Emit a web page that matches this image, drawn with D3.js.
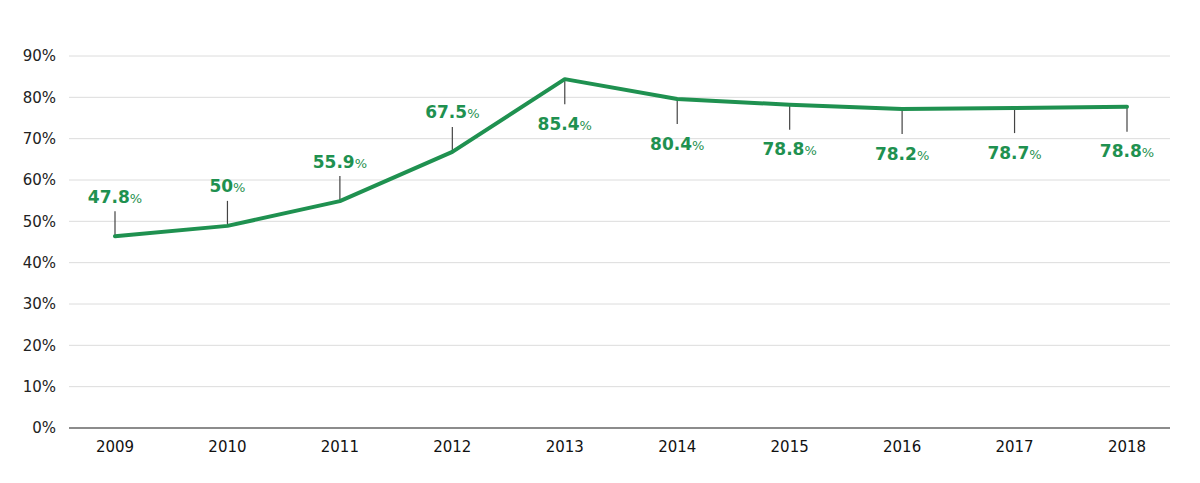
<!DOCTYPE html>
<html>
<head>
<meta charset="utf-8">
<script src="https://cdn.jsdelivr.net/npm/d3@7"></script>
<style>
  body { margin: 0; background: #fff; }
  svg { display: block; font-family: "DejaVu Sans", sans-serif; }
</style>
</head>
<body>
<div id="chart"></div>
<script>
// values as plotted by the line, and the labels printed next to them
const years = ['2009', '2010', '2011', '2012', '2013', '2014', '2015', '2016', '2017', '2018'];
const plotted = [46.4, 48.9, 54.9, 66.8, 84.4, 79.6, 78.2, 77.2, 77.4, 77.7];
const labels = ['47.8', '50', '55.9', '67.5', '85.4', '80.4', '78.8', '78.2', '78.7', '78.8'];
const labelSide = ['up', 'up', 'up', 'up', 'down', 'down', 'down', 'down', 'down', 'down'];
const yTicks = [0, 10, 20, 30, 40, 50, 60, 70, 80, 90];

const width = 1200, height = 483;
const green = '#1f9150';

const svg = d3.select('#chart').append('svg')
  .attr('width', width)
  .attr('height', height);

const x = d3.scalePoint().domain(years).range([115, 1127]);
const y = d3.scaleLinear().domain([0, 90]).range([428, 56]);

// grid
svg.append('g')
  .selectAll('line')
  .data(yTicks)
  .enter().append('line')
  .attr('x1', 69).attr('x2', 1170)
  .attr('y1', d => y(d)).attr('y2', d => y(d))
  .attr('stroke', d => d === 0 ? '#666' : '#dcdcdc')
  .attr('stroke-width', d => d === 0 ? 1.5 : 1);

// y axis labels
svg.append('g')
  .selectAll('text')
  .data(yTicks)
  .enter().append('text')
  .attr('x', 56).attr('y', d => y(d))
  .attr('dy', '0.35em')
  .attr('text-anchor', 'end')
  .attr('font-size', 15)
  .attr('fill', '#222')
  .text(d => d + '%');

// x axis labels
svg.append('g')
  .selectAll('text')
  .data(years)
  .enter().append('text')
  .attr('x', d => x(d)).attr('y', 447)
  .attr('dy', '0.35em')
  .attr('text-anchor', 'middle')
  .attr('font-size', 15)
  .attr('fill', '#111')
  .text(d => d);

const pts = years.map((yr, i) => ({ yr, v: plotted[i], label: labels[i], side: labelSide[i] }));
const leader = 25;

// leader lines
svg.append('g')
  .selectAll('line')
  .data(pts)
  .enter().append('line')
  .attr('x1', d => x(d.yr)).attr('x2', d => x(d.yr))
  .attr('y1', d => y(d.v))
  .attr('y2', d => d.side === 'up' ? y(d.v) - leader : y(d.v) + leader)
  .attr('stroke', '#444')
  .attr('stroke-width', 1.2);

// the line
svg.append('path')
  .datum(pts)
  .attr('fill', 'none')
  .attr('stroke', green)
  .attr('stroke-width', 4)
  .attr('stroke-linejoin', 'round')
  .attr('stroke-linecap', 'round')
  .attr('d', d3.line().x(d => x(d.yr)).y(d => y(d.v)));

// value labels
const lbl = svg.append('g')
  .selectAll('text')
  .data(pts)
  .enter().append('text')
  .attr('x', d => x(d.yr))
  .attr('y', d => d.side === 'up' ? y(d.v) - leader - 14 : y(d.v) + leader + 20)
  .attr('dy', '0.35em')
  .attr('text-anchor', 'middle')
  .attr('fill', green);
lbl.append('tspan')
  .attr('font-size', 17)
  .attr('font-weight', 700)
  .text(d => d.label);
lbl.append('tspan')
  .attr('font-size', 13)
  .text('%');
</script>
</body>
</html>
